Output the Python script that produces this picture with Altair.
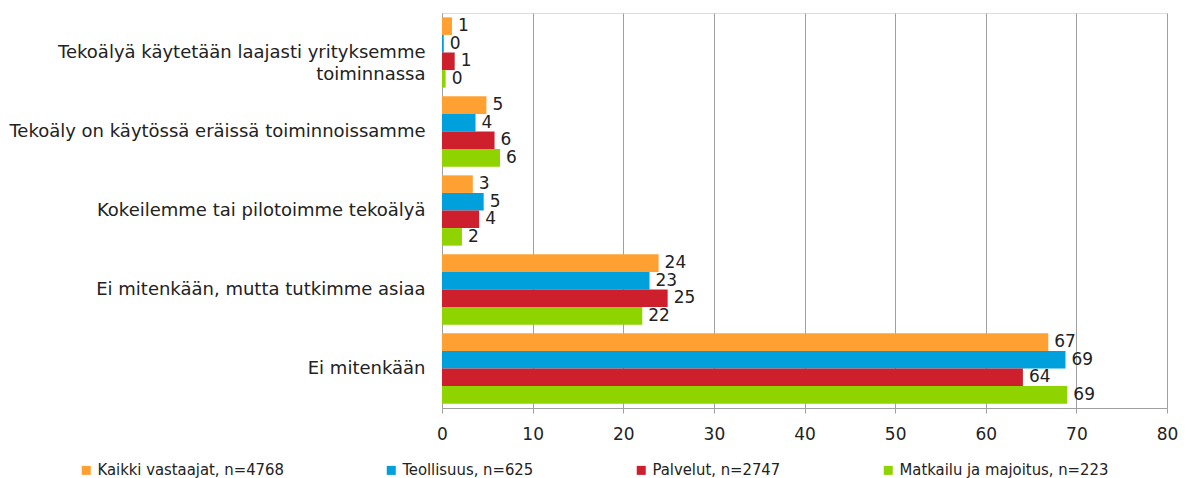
import altair as alt
import pandas as pd

categories = [
    "Tekoälyä käytetään laajasti yrityksemme toiminnassa",
    "Tekoäly on käytössä eräissä toiminnoissamme",
    "Kokeilemme tai pilotoimme tekoälyä",
    "Ei mitenkään, mutta tutkimme asiaa",
    "Ei mitenkään",
]
series = [
    "Kaikki vastaajat, n=4768",
    "Teollisuus, n=625",
    "Palvelut, n=2747",
    "Matkailu ja majoitus, n=223",
]
kaikki = [1.1, 4.9, 3.4, 23.9, 66.9]
teollisuus = [0.2, 3.7, 4.6, 22.9, 68.8]
palvelut = [1.4, 5.8, 4.1, 24.9, 64.1]
matkailu = [0.4, 6.4, 2.2, 22.1, 69.0]
colors = ["#FFA033", "#00A0DC", "#CD202C", "#8FD400"]
x_ticks = [0, 10, 20, 30, 40, 50, 60, 70, 80]

rows = []
for s, vals in zip(series, [kaikki, teollisuus, palvelut, matkailu]):
    for c, v in zip(categories, vals):
        rows.append({"kategoria": c, "sarja": s, "arvo": v})
df = pd.DataFrame(rows)

font = "DejaVu Sans"

y_enc = alt.Y(
    "kategoria:N",
    sort=categories,
    title=None,
    scale=alt.Scale(paddingInner=0.11, paddingOuter=0.055),
    axis=alt.Axis(
        labelFont=font,
        labelFontSize=18,
        labelColor="#222222",
        labelPadding=17,
        labelLimit=500,
        ticks=False,
        domainColor="#A0A0A0",
        labelLineHeight=22,
        labelExpr="datum.label == 'Tekoälyä käytetään laajasti yrityksemme toiminnassa' ? ['Tekoälyä käytetään laajasti yrityksemme', 'toiminnassa'] : datum.label",
    ),
)
x_enc = alt.X(
    "arvo:Q",
    title=None,
    scale=alt.Scale(domain=[0, 80], nice=False),
    axis=alt.Axis(
        values=x_ticks,
        labelFont=font,
        labelFontSize=17,
        labelColor="#222222",
        labelPadding=13,
        labelFlush=False,
        tickSize=5,
        tickColor="#A0A0A0",
        domainColor="#A0A0A0",
        gridColor="#A0A0A0",
        grid=True,
    ),
)
yoff = alt.YOffset("sarja:N", sort=series)

bars = alt.Chart(df).mark_bar().encode(
    x=x_enc,
    y=y_enc,
    yOffset=yoff,
    color=alt.Color(
        "sarja:N",
        sort=series,
        scale=alt.Scale(domain=series, range=colors),
        legend=alt.Legend(
            title=None,
            orient="none",
            legendX=-364,
            legendY=449,
            direction="horizontal",
            columns=4,
            symbolType="square",
            symbolSize=81,
            symbolStrokeWidth=0,
            labelFont="DejaVu Sans Condensed",
            labelFontSize=16.5,
            labelColor="#222222",
            labelOffset=3,
            columnPadding=99,
            labelLimit=400,
        ),
    ),
)

texts = alt.Chart(df).mark_text(
    align="left", baseline="middle", dx=6, font=font, fontSize=17, color="#222222"
).encode(
    x="arvo:Q",
    y=alt.Y("kategoria:N", sort=categories),
    yOffset=yoff,
    text=alt.Text("arvo:Q", format=".0f"),
)

chart = (
    alt.layer(bars, texts)
    .properties(
        width=725,
        height=395,
        autosize=alt.AutoSizeParams(type="none"),
        padding={"left": 434, "top": 5, "right": 11, "bottom": 70},
    )
    .configure_view(stroke="#A0A0A0", strokeWidth=1)
    .configure(background="white")
)

chart.save("out.html", embed_options={"renderer": "svg", "actions": False})
